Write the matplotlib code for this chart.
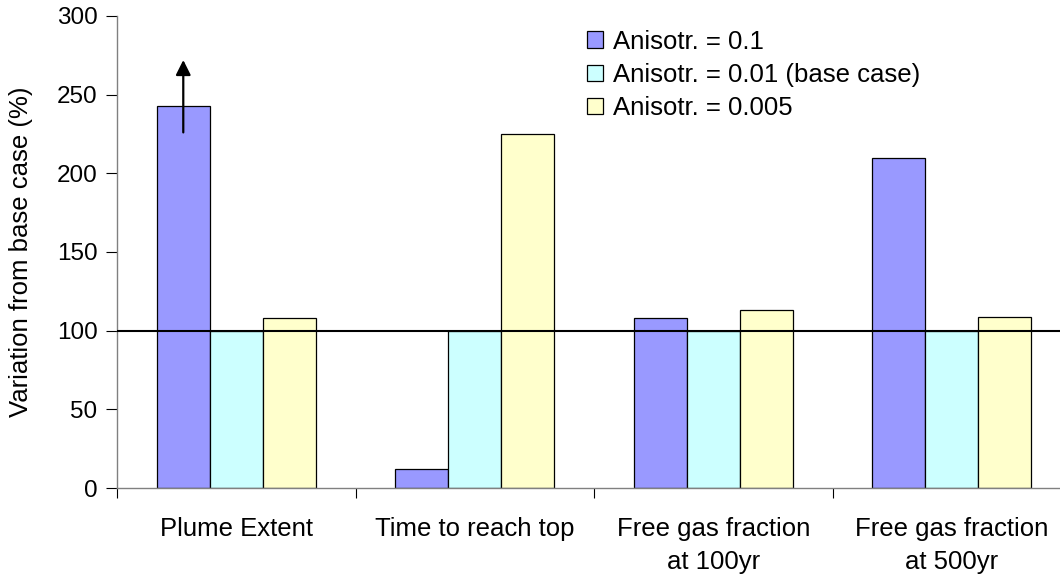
import numpy as np
import matplotlib
matplotlib.use("Agg")
import matplotlib.pyplot as plt

plt.rcParams["font.family"] = ["Liberation Sans", "DejaVu Sans"]

categories = ["Plume Extent", "Time to reach top", "Free gas fraction\nat 100yr", "Free gas fraction\nat 500yr"]
series_names = ["Anisotr. = 0.1", "Anisotr. = 0.01 (base case)", "Anisotr. = 0.005"]
aniso_01 = [243, 12, 108, 210]
aniso_001 = [100, 100, 100, 100]
aniso_0005 = [108, 225, 113, 109]
colors = ["#9999FF", "#CCFFFF", "#FFFFCC"]

base_line = 100
# arrow on the plume extent bar, which goes past the scale
arrow_start = 226
arrow_end = 272

fig = plt.figure(figsize=(10.6, 5.75), dpi=100)
ax = fig.add_axes([0.1104, 0.1513, 0.9, 0.8209])

x = np.arange(len(categories))
bw = 0.2222
for i, (vals, name, c) in enumerate(zip([aniso_01, aniso_001, aniso_0005], series_names, colors)):
    ax.bar(x + (i - 1) * bw, vals, bw, color=c, edgecolor="black", linewidth=0.9, label=name, zorder=2)

ax.axhline(base_line, color="black", linewidth=1.5, zorder=3)

ax.annotate("", xy=(x[0] - bw, arrow_end), xytext=(x[0] - bw, arrow_start),
            arrowprops=dict(arrowstyle="-|>,head_length=0.9,head_width=0.45", color="black", lw=1.6,
                            shrinkA=0, shrinkB=0), zorder=4)

ax.set_xlim(-0.5, len(categories) - 0.5)
ax.set_ylim(0, 300)
ax.set_yticks(np.arange(0, 301, 50))
ax.set_xticks(np.arange(len(categories) + 1) - 0.5)
ax.set_xticklabels([])
ax.set_xticks(x, minor=True)
ax.set_xticklabels(categories, minor=True, fontsize=18.5, linespacing=1.45)
ax.tick_params(axis="x", which="minor", length=0, pad=21)
ax.tick_params(axis="x", which="major", length=7, direction="out", color="black", width=0.8)
ax.tick_params(axis="y", length=8, direction="out", color="black", width=0.8, labelsize=17.5, pad=6)

for s in ["top", "right"]:
    ax.spines[s].set_visible(False)
for s in ["left", "bottom"]:
    ax.spines[s].set_color("#808080")
    ax.spines[s].set_linewidth(1.0)

ax.set_ylabel("Variation from base case (%)", fontsize=18.5)
ax.yaxis.set_label_coords(-0.088, 0.5)

ax.legend(loc="upper left", bbox_to_anchor=(0.4686, 1.02), frameon=False, fontsize=18.5,
          handlelength=0.62, handleheight=0.62, handletextpad=0.39, labelspacing=0.36)

fig.savefig("out.png", dpi=100)
